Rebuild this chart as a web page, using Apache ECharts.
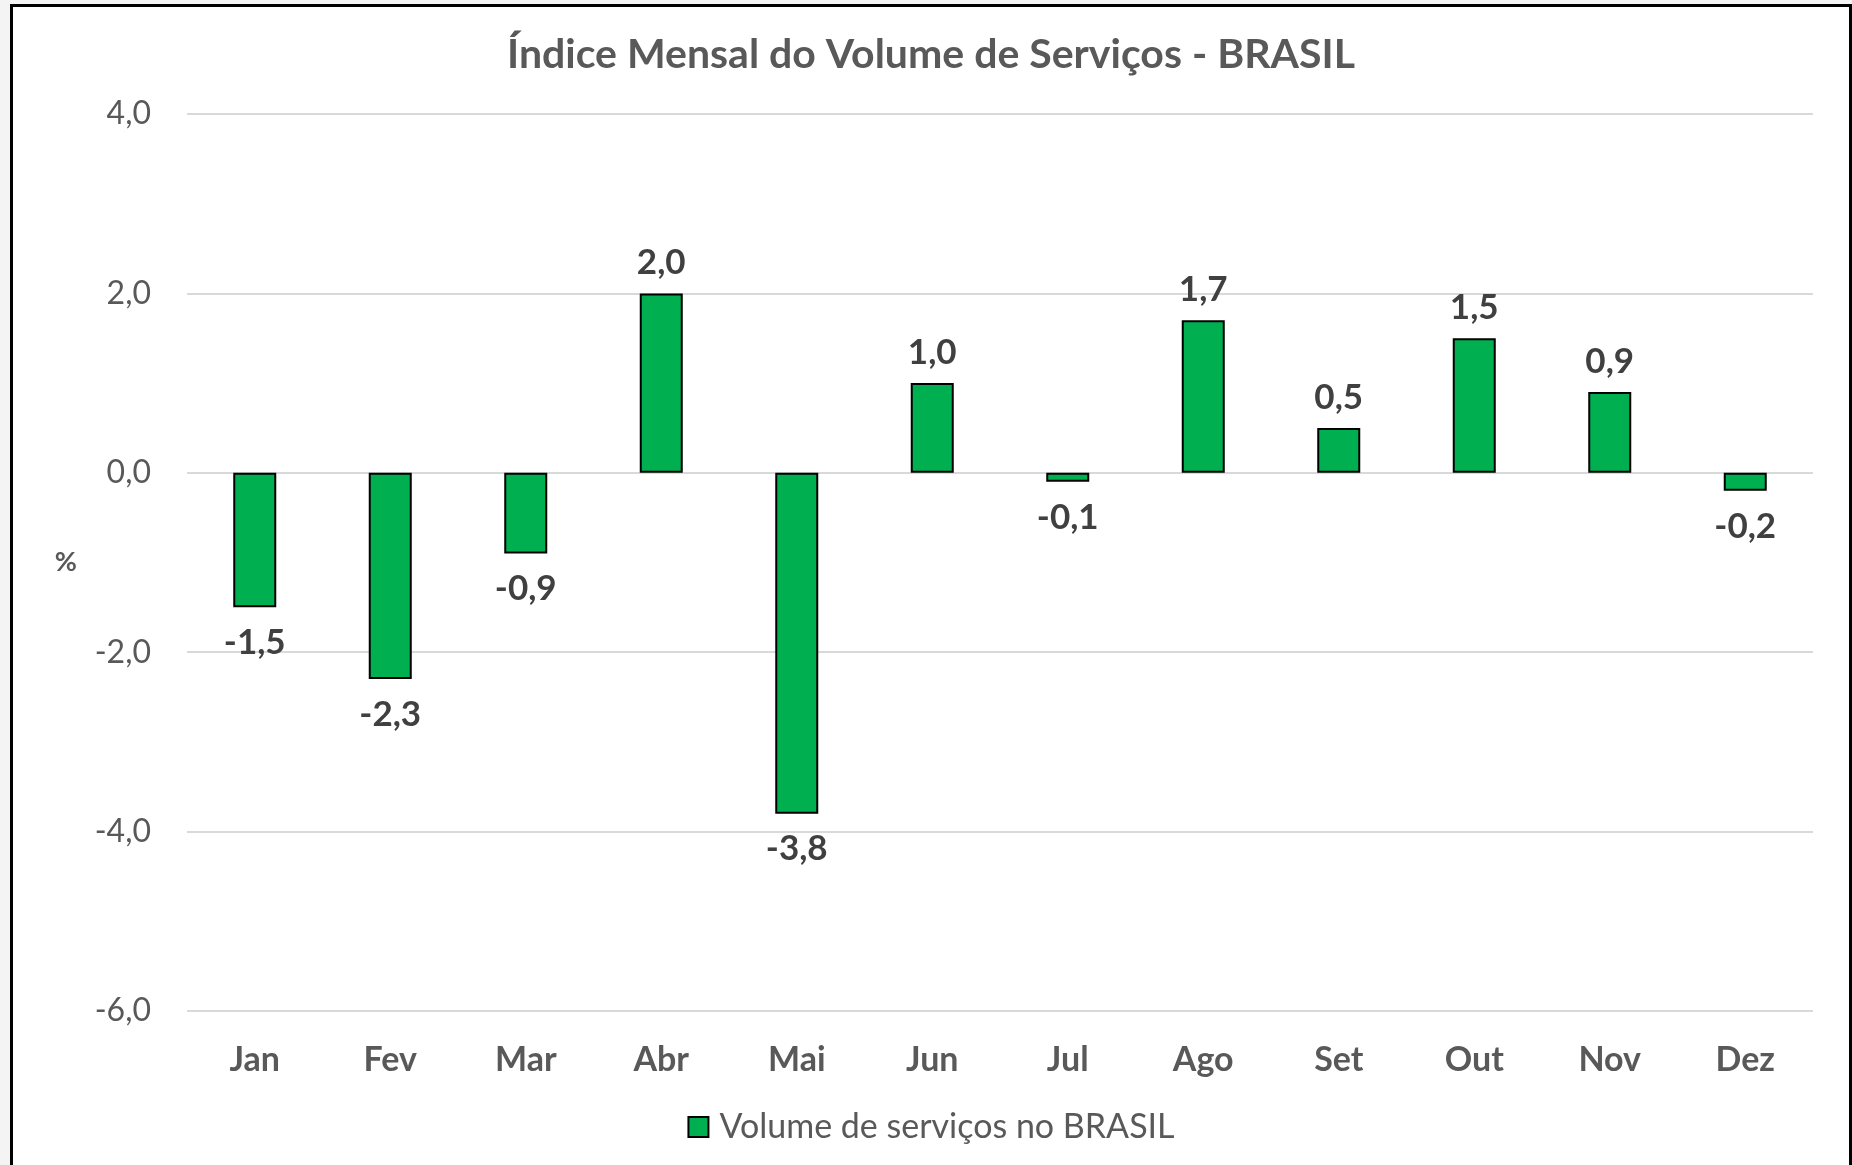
<!DOCTYPE html>
<html>
<head>
<meta charset="utf-8">
<script src="https://cdn.jsdelivr.net/npm/echarts@6/dist/echarts.min.js"></script>
<style>
  html, body { margin: 0; padding: 0; background: #f4f4f4; overflow: hidden; }
  #chart {
    position: absolute; left: 10px; top: 4px;
    width: 1836px; height: 1200px;
    border: 3px solid #000; background: #fff;
  }
</style>
</head>
<body>
<div id="chart"></div>
<script>
// data
const months = ['Jan', 'Fev', 'Mar', 'Abr', 'Mai', 'Jun', 'Jul', 'Ago', 'Set', 'Out', 'Nov', 'Dez'];
const volume = [-1.5, -2.3, -0.9, 2.0, -3.8, 1.0, -0.1, 1.7, 0.5, 1.5, 0.9, -0.2];
const seriesName = 'Volume de serviços no BRASIL';

const fmt = v => v.toFixed(1).replace('.', ',');
const font = 'Lato, "Open Sans", sans-serif';

const chart = echarts.init(document.getElementById('chart'));

chart.setOption({
  animation: false,
  textStyle: { fontFamily: font },
  title: {
    text: 'Índice Mensal do Volume de Serviços - BRASIL',
    left: 'center',
    top: 22,
    textStyle: { fontFamily: font, fontSize: 41, fontWeight: 'bold', color: '#595959' }
  },
  legend: {
    data: [seriesName],
    left: 'center',
    top: 1098,
    icon: 'rect',
    itemWidth: 20,
    itemHeight: 20,
    textStyle: { fontFamily: font, fontSize: 34, color: '#595959', padding: [0, 0, 0, 6] }
  },
  grid: { left: 174, right: 36, top: 107, bottom: 196 },
  xAxis: {
    type: 'category',
    data: months,
    axisLine: { show: false, onZero: false },
    axisTick: { show: false },
    axisLabel: { margin: 32, fontSize: 34, fontWeight: 'bold', color: '#595959', fontFamily: font }
  },
  yAxis: {
    type: 'value',
    min: -6, max: 4, interval: 2,
    name: '%',
    nameLocation: 'middle',
    nameRotate: 0,
    nameGap: 110,
    nameTextStyle: { fontSize: 27, fontWeight: 'bold', color: '#595959', fontFamily: font },
    axisLine: { show: false },
    axisTick: { show: false },
    axisLabel: { margin: 36, fontSize: 32, color: '#595959', fontFamily: font, formatter: fmt },
    splitLine: { lineStyle: { color: '#d9d9d9', width: 2 } }
  },
  series: [{
    name: seriesName,
    type: 'bar',
    barWidth: 43,
    itemStyle: { color: '#00b050', borderColor: '#000', borderWidth: 2 },
    label: {
      show: true,
      fontSize: 35,
      fontWeight: 'bold',
      color: '#404040',
      fontFamily: font,
      formatter: p => fmt(p.value)
    },
    data: volume.map(v => ({
      value: v,
      label: v < 0 ? { position: 'bottom', distance: 18 } : { position: 'top', distance: 13 }
    }))
  }]
});
</script>
</body>
</html>
